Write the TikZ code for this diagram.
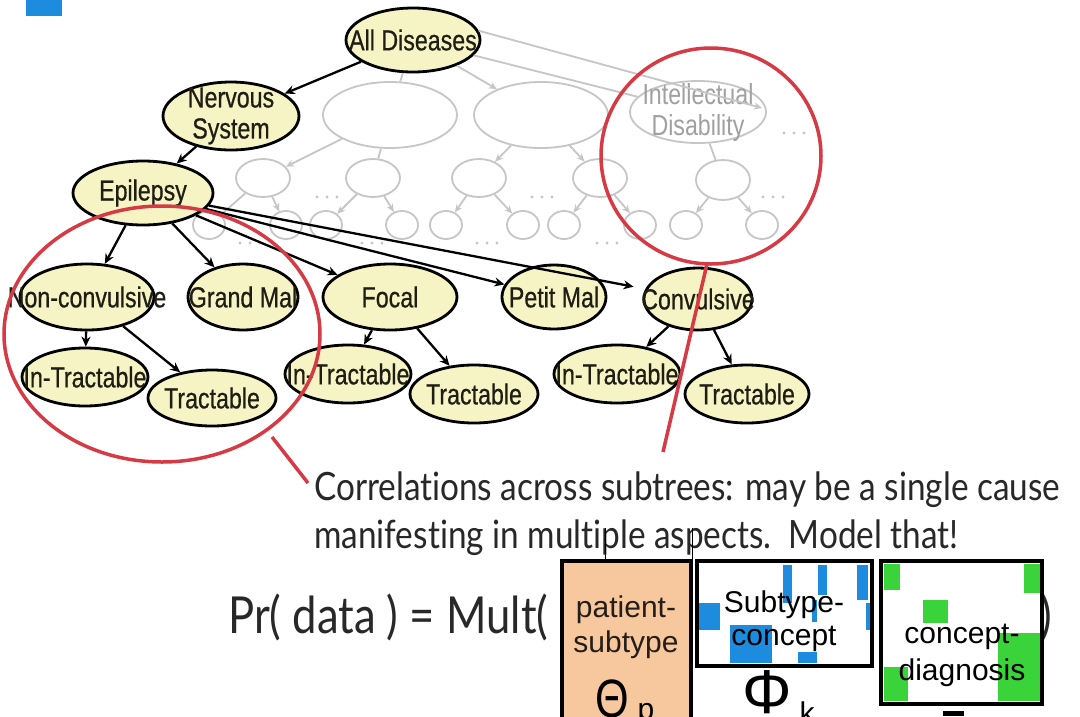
\documentclass[tikz,border=0pt]{standalone}
\usepackage{fontspec}
\setmainfont{Liberation Sans}
\newfontfamily\nodefont[FakeStretch=0.8,FakeBold=0.6]{Liberation Sans}
\newfontfamily\greyfont[FakeStretch=0.8]{Liberation Sans}
\newfontfamily\slidefont[FakeStretch=0.855,Ligatures={NoCommon,NoRequired,NoContextual}]{Lato}
\usetikzlibrary{shapes.geometric,arrows.meta}
\definecolor{ynode}{RGB}{246,243,196}
\definecolor{gline}{RGB}{198,198,198}
\definecolor{rcirc}{RGB}{214,58,68}
\definecolor{obox}{RGB}{247,199,158}
\definecolor{bpatch}{RGB}{30,140,222}
\definecolor{gpatch}{RGB}{58,212,58}
\definecolor{tdark}{RGB}{30,30,20}
\definecolor{gtext}{RGB}{160,160,160}
\definecolor{slidetext}{RGB}{40,40,40}
\begin{document}
\begin{tikzpicture}[x=1pt,y=-1pt,
  ell/.style 2 args={minimum width=#1pt,minimum height=#2pt},
  yn/.style={ellipse,draw=black,line width=2.8pt,fill=ynode,inner sep=0pt},
  gn/.style={ellipse,draw=gline,line width=1.8pt,fill=white,inner sep=0pt},
  nlab/.style={font=\nodefont\fontsize{29}{31}\selectfont,text=tdark,align=center,inner sep=0pt},
  glab/.style={font=\greyfont\fontsize{29}{31}\selectfont,text=gtext,align=center,inner sep=0pt},
  blk/.style={draw=black,line width=2.3pt,-{Stealth[length=10pt,width=9pt]}},
  gry/.style={draw=gline,line width=1.8pt,-{Stealth[length=8pt,width=7pt]}},
  gryplain/.style={draw=gline,line width=1.8pt},
  redc/.style={draw=rcirc,line width=3.5pt},
  slide/.style={font=\slidefont\fontsize{39}{47}\selectfont,text=slidetext,inner sep=0pt,anchor=base west},
  boxtxt/.style={font=\fontsize{30}{35}\selectfont,inner sep=0pt,anchor=base},
]
\useasboundingbox (0,0) rectangle (1080,716);
\fill[white] (0,0) rectangle (1080,716);
% blue tab
\fill[bpatch] (26,0) rectangle (62,16);

% ---------- grey background tree ----------
\node[gn,ell={134}{66}] (e1) at (390,115) {};
\node[gn,ell={134}{66}] (e2) at (541,115) {};
\node[gn,ell={136}{62},label={[glab]center:Intellectual\\Disability}] (id) at (698,112) {};
\node[gn,ell={54}{38}] (c1) at (263,178) {};
\node[gn,ell={54}{38}] (c2) at (373,178) {};
\node[gn,ell={54}{38}] (c3) at (479,178) {};
\node[gn,ell={54}{38}] (c4) at (600,178) {};
\node[gn,ell={54}{40}] (c5) at (723,180) {};
\foreach \n/\x in {s1/209,s2/286,s3/326,s4/402,s5/446,s6/523,s7/564,s8/640,s9/686,s10/762}
  \node[gn,ell={32}{28}] (\n) at (\x,225) {};
\foreach \x/\y in {327/197,542/197,773/197,794/133,250/243,372/243,487/243,607/243}
  \foreach \d in {-10,0,10} \fill[gline] (\x+\d,\y) circle (1.6pt);

% ---------- black tree ----------
\node[yn,ell={134}{64},label={[nlab]center:All Diseases}] (ad) at (413,40) {};
\node[yn,ell={136}{68},label={[nlab]center:Nervous\\System}] (ns) at (231,116) {};
\node[yn,ell={140}{64},label={[nlab]center:Epilepsy}] (ep) at (143,193) {};
\node[yn,ell={134}{66},label={[nlab]center:Non-convulsive}] (nc) at (87,297) {};
\node[yn,ell={110}{66},label={[nlab]center:Grand Mal}] (gm) at (243,297) {};
\node[yn,ell={134}{66},label={[nlab]center:Focal}] (fo) at (390,297) {};
\node[yn,ell={104}{64},label={[nlab]center:Petit Mal}] (pm) at (554,297) {};
\node[yn,ell={108}{62},label={[nlab]center:Convulsive}] (cv) at (698,299) {};
\node[yn,ell={126}{58},label={[nlab]center:In-Tractable}] (it1) at (85,377) {};
\node[yn,ell={128}{56},label={[nlab]center:Tractable}] (t1) at (212,398) {};
\node[yn,ell={126}{58},label={[nlab]center:In-Tractable}] (it2) at (348,374) {};
\node[yn,ell={128}{58},label={[nlab]center:Tractable}] (t2) at (474,394) {};
\node[yn,ell={126}{58},label={[nlab]center:In-Tractable}] (it3) at (617,374) {};
\node[yn,ell={124}{58},label={[nlab]center:Tractable}] (t3) at (747,394) {};

% grey edges
\draw[gryplain] (ad) -- (e1);
\draw[gry] (ad) -- (e2);
\draw[gryplain] (ad) -- (id);
\coordinate (idtip) at (762,108);
\draw[gry] (ad.8) -- (idtip);
\draw[gry] (e1) -- (c1);
\draw[gryplain] (e1) -- (c2);
\draw[gry] (e2) -- (c3);
\draw[gry] (e2) -- (c4);
\draw[gryplain] (id) -- (c5);
\draw[gryplain] (c1) -- (s1);
\draw[gry] (c1) -- (s2);
\draw[gry] (c2) -- (s3);
\draw[gry] (c2) -- (s4);
\draw[gry] (c3) -- (s5);
\draw[gry] (c3) -- (s6);
\draw[gry] (c4) -- (s7);
\draw[gry] (c4) -- (s8);
\draw[gry] (c5) -- (s9);
\draw[gry] (c5) -- (s10);

% black edges
\draw[blk] (ad) -- (ns);
\draw[blk] (ns) -- (ep);
\draw[blk] (ep) -- (nc);
\draw[blk] (ep) -- (gm);
\draw[blk] (ep) -- (fo);
\draw[blk] (ep) -- (pm);
\draw[blk,shorten >=12pt] (ep) -- (cv);
\draw[blk] (nc) -- (it1);
\draw[blk] (nc) -- (t1);
\draw[blk] (fo) -- (it2);
\draw[blk] (fo) -- (t2);
\draw[blk] (cv) -- (it3);
\draw[blk] (cv) -- (t3);

% red highlights
\draw[redc] (162,334) ellipse [x radius=158pt, y radius=128pt];
\draw[redc] (272,437) -- (308,483);
\draw[redc] (711,156) ellipse [x radius=110pt, y radius=108pt];
\draw[redc] (707,264) -- (663,452);

% ---------- text ----------
\node[slide] (l1) at (314,500) {Correlations across subtrees: may be a single cause};
\node[slide] (l2) at (314,548) {manifesting in multiple aspects.\ \ Model that!};
\node[slide,font=\slidefont\fontsize{51}{60}\selectfont] (pr) at (228,633) {Pr( data ) = Mult(};
\node[slide,font=\slidefont\fontsize{51}{60}\selectfont] (cp) at (1040,633) {)};

% connector ticks above boxes
\draw[black,line width=1pt] (605,528) -- (605,561);
\draw[black,line width=1pt] (692,528) -- (692,561);

% orange box
\draw[black,line width=3.5pt,fill=obox] (562,561) rectangle (691,740);
\node[boxtxt,text=black!85!obox] (pa) at (626,617) {patient-};
\node[boxtxt,text=black!85!obox] (su) at (626,652) {subtype};
\node[boxtxt,font=\greyfont\fontsize{54}{60}\selectfont,text=black] (th) at (612,717) {Θ};
\node[boxtxt,font=\fontsize{30}{30}\selectfont,text=black] (thp) at (646,719) {p};

% blue box
\fill[white] (697,561) rectangle (872,666);
\foreach \a/\b/\c/\d in {783/565/792/603, 818/565/827/595, 857/565/868/600, 698/603/720/630, 812/600/817/622, 730/625/772/663, 798/652/817/663, 866/603/871/630}
  \fill[bpatch] (\a,\b) rectangle (\c,\d);
\draw[black,line width=3.5pt] (697,561) rectangle (872,666);
\node[boxtxt] (st) at (784,612) {Subtype-};
\node[boxtxt] (co) at (784,645) {concept};
\node[boxtxt,font=\fontsize{62}{64}\selectfont] (ph) at (767,713) {Φ};
\node[boxtxt,font=\fontsize{30}{30}\selectfont] (phk) at (807,723) {k};

% green box
\fill[white] (881,561) rectangle (1042,704);
\foreach \a/\b/\c/\d in {884/564/900/590, 884/667/908/701, 1024/564/1040/593, 923/600/948/623, 998/633/1040/701}
  \fill[gpatch] (\a,\b) rectangle (\c,\d);
\draw[black,line width=3.5pt] (881,561) rectangle (1042,704);
\node[boxtxt] (cc) at (962,643) {concept-};
\node[boxtxt] (dg) at (962,680) {diagnosis};
\fill[black] (943,711) rectangle (964,716);
\end{tikzpicture}
\end{document}
